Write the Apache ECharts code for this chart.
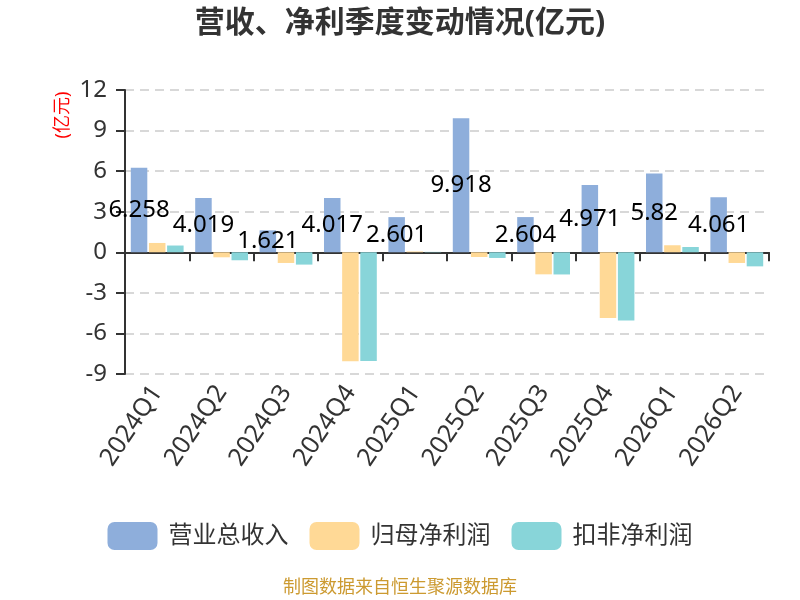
<!DOCTYPE html>
<html>
<head>
    <meta charset="utf-8">
    <title>营收、净利季度变动情况</title>
    <script src="https://cdn.jsdelivr.net/npm/echarts@6/dist/echarts.min.js"></script>
    <style>
        html, body { margin: 0; padding: 0; background: #fff; }
        #main { width: 800px; height: 600px; }
    </style>
</head>
<body>
    <div id="main"></div>
    <script>
        // quarters on the x axis
        var quarters = ['2024Q1', '2024Q2', '2024Q3', '2024Q4', '2025Q1',
                        '2025Q2', '2025Q3', '2025Q4', '2026Q1', '2026Q2'];
        // values in 亿元
        var revenue = [6.258, 4.019, 1.621, 4.017, 2.601, 9.918, 2.604, 4.971, 5.82, 4.061];
        var netProfit = [0.69, -0.37, -0.79, -8.05, 0.06, -0.35, -1.63, -4.86, 0.52, -0.79];
        var deductedProfit = [0.5, -0.59, -0.91, -8.04, 0.03, -0.42, -1.64, -5.05, 0.39, -1.04];
        var seriesNames = ['营业总收入', '归母净利润', '扣非净利润'];
        var colors = ['#8eaedb', '#ffd996', '#88d5d9'];

        var font = '"Noto Sans", "Noto Sans CJK SC", sans-serif';
        var chart = echarts.init(document.getElementById('main'));

        var option = {
            animation: false,
            color: colors,
            textStyle: { fontFamily: font },
            title: [
                {
                    text: '营收、净利季度变动情况(亿元)',
                    left: 'center',
                    top: 3,
                    textStyle: { fontSize: 30, fontWeight: 'bold', color: '#333', fontFamily: font }
                },
                {
                    // source note at the bottom
                    text: '制图数据来自恒生聚源数据库',
                    left: 'center',
                    top: 574,
                    textStyle: { fontSize: 18, fontWeight: 'normal', color: '#cc9a30', fontFamily: font }
                }
            ],
            graphic: [
                {
                    type: 'text',
                    x: 63,
                    y: 115,
                    rotation: Math.PI / 2,
                    style: {
                        text: '(亿元)',
                        fill: '#ff0000',
                        font: '18px ' + font,
                        align: 'center',
                        verticalAlign: 'middle'
                    }
                }
            ],
            legend: {
                data: seriesNames,
                left: 'center',
                top: 517,
                icon: 'roundRect',
                itemWidth: 50,
                itemHeight: 28,
                itemGap: 21,
                textStyle: { fontSize: 24, color: '#333', fontFamily: font, padding: [0, 0, 0, 6] }
            },
            grid: { left: 125, right: 31, top: 90, bottom: 226, containLabel: false },
            xAxis: [
                {
                    // labels along the bottom
                    type: 'category',
                    data: quarters,
                    position: 'bottom',
                    axisLine: { show: false, onZero: false },
                    axisTick: { show: false },
                    axisLabel: { interval: 0, rotate: 56, margin: 14, fontSize: 25, color: '#333' },
                    splitLine: { show: false }
                },
                {
                    // zero line with ticks
                    type: 'category',
                    data: quarters,
                    position: 'top',
                    axisLine: { show: true, onZero: true, lineStyle: { color: '#333', width: 2 } },
                    axisTick: { show: true, inside: true, length: 9, lineStyle: { color: '#333', width: 2 } },
                    axisLabel: { show: false },
                    splitLine: { show: false }
                }
            ],
            yAxis: {
                type: 'value',
                min: -9,
                max: 12,
                interval: 3,
                axisLine: { show: true, lineStyle: { color: '#333', width: 2 } },
                axisTick: { show: true, length: 9, lineStyle: { color: '#333', width: 2 } },
                axisLabel: { fontSize: 24, color: '#333', margin: 18 },
                splitLine: { show: true, lineStyle: { color: '#ccc', width: 1.5, type: [9, 6] } }
            },
            series: [
                {
                    name: seriesNames[0],
                    type: 'bar',
                    xAxisIndex: 0,
                    data: revenue,
                    barGap: '10%',
                    barCategoryGap: '18%',
                    label: {
                        show: true,
                        position: 'inside',
                        color: '#000',
                        fontSize: 24,
                        fontFamily: font
                    }
                },
                {
                    name: seriesNames[1],
                    type: 'bar',
                    xAxisIndex: 0,
                    data: netProfit
                },
                {
                    name: seriesNames[2],
                    type: 'bar',
                    xAxisIndex: 0,
                    data: deductedProfit
                }
            ]
        };
        chart.setOption(option);
    </script>
</body>
</html>
